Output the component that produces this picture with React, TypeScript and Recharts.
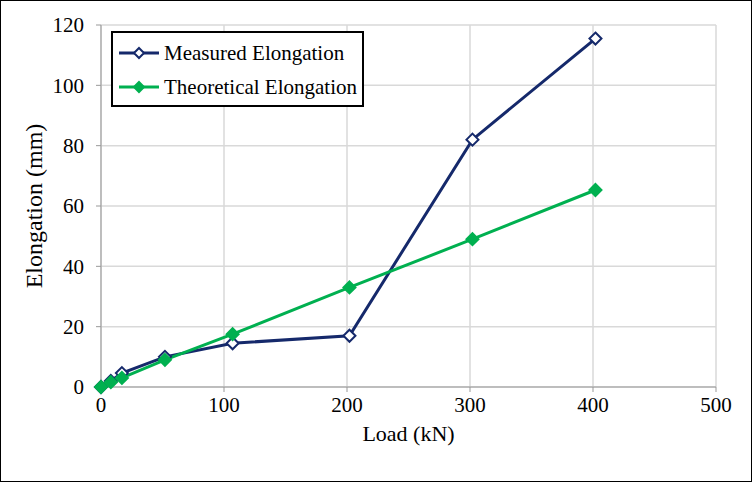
import { CartesianGrid, Line, LineChart, XAxis, YAxis } from 'recharts';

const loads = [0, 8, 17, 52, 107, 202, 302, 402];
const measured = [0, 2, 4.6, 10, 14.5, 17, 82, 115.5];
const theoretical = [0, 1.6, 3, 9, 17.5, 33, 49, 65.3];
const xTicks = [0, 100, 200, 300, 400, 500];
const yTicks = [0, 20, 40, 60, 80, 100, 120];

const data = loads.map((load, i) => ({
  load,
  measured: measured[i],
  theoretical: theoretical[i],
}));

const NAVY = '#15296b';
const GREEN = '#00b050';
const FONT = '"Times New Roman", Times, "Liberation Serif", "DejaVu Serif", serif';

function Diamond(props: any) {
  const { cx, cy, fill, stroke, size = 6 } = props;
  if (cx == null || cy == null) return null;
  const pts = `${cx},${cy - size} ${cx + size},${cy} ${cx},${cy + size} ${cx - size},${cy}`;
  return <polygon points={pts} fill={fill} stroke={stroke} strokeWidth={2} />;
}

function LegendBox() {
  const rows = [
    { label: 'Measured Elongation', color: NAVY, hollow: true },
    { label: 'Theoretical Elongation', color: GREEN, hollow: false },
  ];
  return (
    <div
      style={{
        position: 'absolute',
        left: 110,
        top: 30,
        width: 253,
        height: 76,
        border: '2px solid #000',
        background: '#fff',
        fontFamily: FONT,
        fontSize: 21,
        padding: '3px 4px',
        boxSizing: 'border-box',
      }}
    >
      {rows.map((r) => (
        <div key={r.label} style={{ display: 'flex', alignItems: 'center', height: 34 }}>
          <svg width={44} height={16} style={{ marginRight: 3 }}>
            <line x1={2} y1={8} x2={42} y2={8} stroke={r.color} strokeWidth={3} />
            <Diamond cx={22} cy={8} size={5} fill={r.hollow ? '#fff' : r.color} stroke={r.color} />
          </svg>
          <span>{r.label}</span>
        </div>
      ))}
    </div>
  );
}

export default function App() {
  const tickStyle = { fill: '#000', fontSize: 21, fontFamily: FONT };
  return (
    <div
      style={{
        position: 'absolute',
        left: 0,
        top: 0,
        width: 752,
        height: 482,
        border: '1px solid #000',
        boxSizing: 'border-box',
        background: '#fff',
        fontFamily: FONT,
      }}
    >
      <LineChart
        width={750}
        height={480}
        data={data}
        margin={{ top: 24, right: 35, left: 0, bottom: 0 }}
      >
        <CartesianGrid stroke="#d9d9d9" strokeWidth={1.5} />
        <XAxis
          dataKey="load"
          type="number"
          domain={[0, 500]}
          ticks={xTicks}
          stroke="#999"
          tick={tickStyle}
          tickSize={5}
          tickMargin={5}
          height={94}
          label={{ value: 'Load (kN)', position: 'insideTop', offset: 38, fill: '#000', fontSize: 22, fontFamily: FONT }}
        />
        <YAxis
          type="number"
          domain={[0, 120]}
          ticks={yTicks}
          stroke="#999"
          tick={tickStyle}
          tickSize={5}
          tickMargin={12}
          width={100}
          label={{
            value: 'Elongation (mm)',
            angle: -90,
            position: 'insideLeft',
            offset: 32,
            fill: '#000',
            fontSize: 24,
            fontFamily: FONT,
            style: { textAnchor: 'middle' },
          }}
        />
        <Line
          dataKey="measured"
          stroke={NAVY}
          strokeWidth={3}
          isAnimationActive={false}
          dot={(p: any) => <Diamond key={`m${p.index}`} cx={p.cx} cy={p.cy} fill="#fff" stroke={NAVY} />}
        />
        <Line
          dataKey="theoretical"
          stroke={GREEN}
          strokeWidth={3}
          isAnimationActive={false}
          dot={(p: any) => <Diamond key={`t${p.index}`} cx={p.cx} cy={p.cy} fill={GREEN} stroke={GREEN} />}
        />
      </LineChart>
      <LegendBox />
    </div>
  );
}
